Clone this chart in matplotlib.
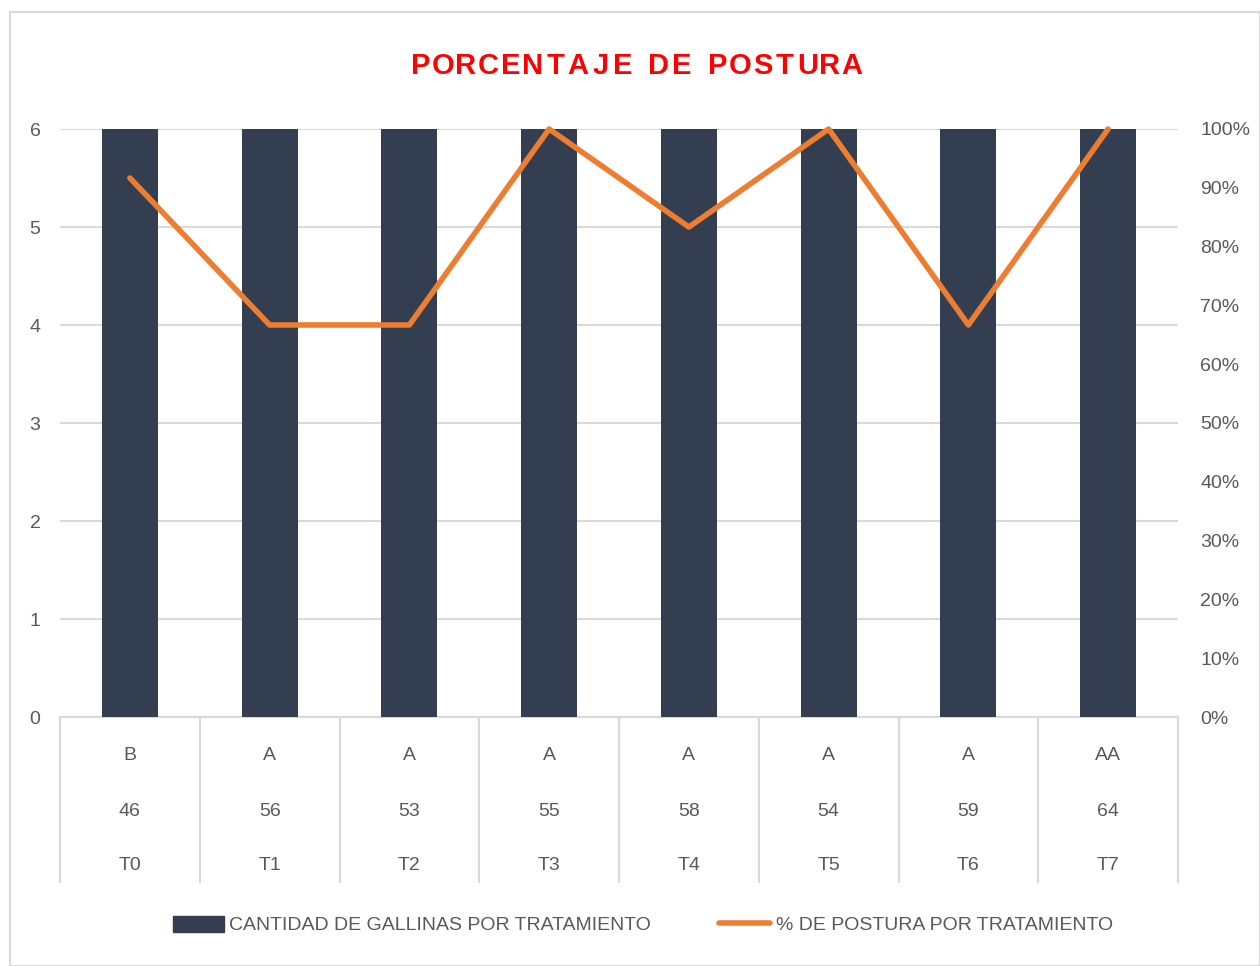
import matplotlib.pyplot as plt
from matplotlib.patches import Rectangle
from matplotlib.lines import Line2D

plt.rcParams['font.family'] = ['Liberation Sans', 'DejaVu Sans']

# data
treatments = ['T0', 'T1', 'T2', 'T3', 'T4', 'T5', 'T6', 'T7']
weights = ['46', '56', '53', '55', '58', '54', '59', '64']
grades = ['B', 'A', 'A', 'A', 'A', 'A', 'A', 'AA']
hens = [6, 6, 6, 6, 6, 6, 6, 6]
laying = [0.9167, 0.6667, 0.6667, 1.0, 0.8333, 1.0, 0.6667, 1.0]
title = 'PORCENTAJE DE POSTURA'

grey = '#595959'
gridc = '#d9d9d9'
bar_c = '#333f50'
line_c = '#ed7d31'

W, H = 1260, 966
fig = plt.figure(figsize=(W / 100, H / 100), dpi=100)
ax = fig.add_axes([60 / W, 1 - 717 / H, (1178 - 60) / W, (717 - 129) / H])
ax2 = ax.twinx()

x = list(range(len(treatments)))
ax.bar(x, hens, width=0.4, color=bar_c, zorder=3)
ax.set_xlim(-0.5, 7.5)
ax.set_ylim(0, 6)
ax.set_yticks(range(7))
ax.yaxis.grid(True, color=gridc, lw=1.5, zorder=0)
ax.set_axisbelow(True)
for s in ['top', 'right', 'left']:
    ax.spines[s].set_visible(False)
ax.spines['bottom'].set_color(gridc)
ax.spines['bottom'].set_linewidth(1.5)
ax.tick_params(axis='y', length=0, labelsize=14, colors=grey, pad=14)
ax.set_xticks([])

ax2.plot(x, laying, color=line_c, lw=4, solid_capstyle='round', clip_on=False, zorder=4)
ax2.set_ylim(0, 1)
ax2.set_yticks([i / 10 for i in range(11)])
ax2.set_yticklabels([f'{i * 10}%' for i in range(11)])
ax2.tick_params(axis='y', length=0, labelsize=14, colors=grey, pad=16)
for s in ax2.spines.values():
    s.set_visible(False)

# multi-level category labels
xt = ax.get_xaxis_transform()
rows = [(grades, 756), (weights, 812), (treatments, 866)]
for labels, ypix in rows:
    for i, lab in enumerate(labels):
        ax.text(i, (717 - ypix) / 588, lab, ha='center', va='center',
                fontsize=14, color=grey, transform=xt)
for i in range(len(treatments) + 1):
    ax.plot([i - 0.5, i - 0.5], [0, (717 - 882) / 588], color=gridc, lw=1.5,
            clip_on=False, transform=xt)

# title, letter-spaced
cx = 421
for word in title.split():
    for ch in word:
        fig.text(cx / W, 1 - 66 / H, ch, ha='center', va='center', fontsize=21,
                 fontweight='bold', color='#ff0000')
        cx += 22.4
    cx += 14

# legend
handles = [Rectangle((0, 0), 1, 1, color=bar_c),
           Line2D([], [], color=line_c, lw=4, solid_capstyle='round')]
fig.legend(handles, ['CANTIDAD DE GALLINAS POR TRATAMIENTO', '% DE POSTURA POR TRATAMIENTO'],
           loc='center', bbox_to_anchor=(643 / W, 1 - 925 / H), ncol=2, frameon=False,
           fontsize=14, labelcolor=grey, handlelength=2.6, handleheight=0.9,
           handletextpad=0.3, columnspacing=3.5)

# chart border
fig.patches.append(Rectangle((10 / W, 0), (W - 10) / W, 1 - 12 / H, transform=fig.transFigure,
                             fill=False, edgecolor=gridc, lw=1.5))

fig.savefig('out.png', dpi=100)
